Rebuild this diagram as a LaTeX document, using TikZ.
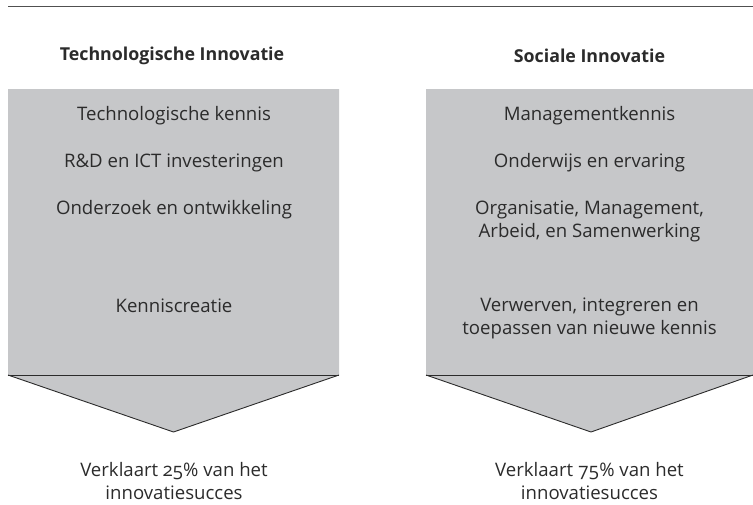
\documentclass[tikz,border=0pt]{standalone}
\usepackage{fontspec}
\setmainfont{Open Sans}[Numbers=OldStyle]
\definecolor{boxgray}{HTML}{C6C7C9}
\definecolor{inkc}{HTML}{2B2B2B}
\definecolor{rulec}{HTML}{505050}
\begin{document}
\begin{tikzpicture}[x=1pt,y=-1pt,
  txt/.style={text=inkc,font=\fontsize{18.6}{23}\selectfont,align=center,inner sep=0pt},
  ttl/.style={text=inkc,font=\fontsize{17.8}{20}\selectfont\bfseries,align=center,inner sep=0pt},
  edge/.style={draw=inkc,line width=0.9pt,line join=miter}]
\useasboundingbox (0,0) rectangle (753,504);
\draw[rulec,line width=1.8pt] (8,6.5) -- (753,6.5);
% left arrow box
\fill[boxgray] (8,89) -- (339,89) -- (339,375) -- (173.5,432) -- (8,375) -- cycle;
\draw[edge] (8,375) -- (339,375);
\draw[edge] (8,375) -- (173.5,432) -- (339,375);
% right arrow box
\fill[boxgray] (426,89) -- (753,89) -- (753,375) -- (591,432) -- (426,375) -- cycle;
\draw[edge] (426,375) -- (753,375);
\draw[edge] (426,375) -- (591,432) -- (753,375);
% titles
\node[ttl] (t1) at (172,56) {Technologische Innovatie};
\node[ttl] (t2) at (589.5,56) {Sociale Innovatie};
% left texts
\node[txt] (l1) at (174,116) {Technologische kennis};
\node[txt] (l2) at (174,163) {R\&D en ICT investeringen};
\node[txt] (l3) at (174,210) {Onderzoek en ontwikkeling};
\node[txt] (l4) at (174,306) {Kenniscreatie};
\node[txt] (l5) at (174,481) {Verklaart 25\% van het\\innovatiesucces};
% right texts
\node[txt] (r1) at (589.5,116) {Managementkennis};
\node[txt] (r2) at (589.5,163) {Onderwijs en ervaring};
\node[txt] (r3) at (589.5,221) {Organisatie, Management,\\Arbeid, en Samenwerking};
\node[txt] (r4) at (589.5,318) {Verwerven, integreren en\\toepassen van nieuwe kennis};
\node[txt] (r5) at (589.5,481) {Verklaart 75\% van het\\innovatiesucces};
\end{tikzpicture}
\end{document}
